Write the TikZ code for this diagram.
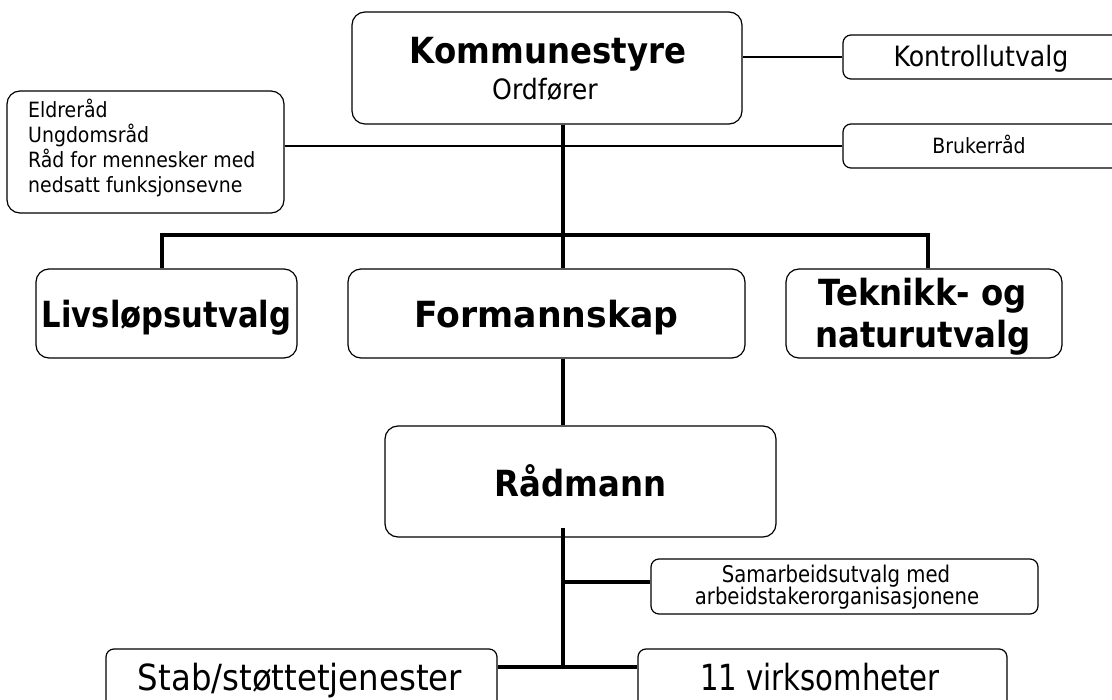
\documentclass[tikz,border=0pt]{standalone}
\usepackage{fontspec}
\setmainfont{DejaVu Sans Condensed}
\newcommand{\hsq}[2]{\scalebox{#1}[1]{#2}}
\begin{document}
\begin{tikzpicture}[x=1pt,y=-1pt]
\tikzset{
  box/.style={draw, fill=white, line width=1.2pt, rounded corners=13pt, inner sep=0pt},
  sbox/.style={box, rounded corners=8pt},
  conn/.style={line width=4.8pt},
  thinconn/.style={line width=1.3pt},
  lbl/.style={inner sep=0pt, anchor=base},
  hd/.style={lbl, font=\fontsize{36}{40}\selectfont\bfseries},
  md/.style={lbl, font=\fontsize{28}{30}\selectfont},
  sm/.style={lbl, font=\fontsize{21}{25}\selectfont},
  sam/.style={lbl, font=\fontsize{23}{25}\selectfont},
  bg/.style={lbl, font=\fontsize{36}{40}\selectfont},
}
\useasboundingbox (0,0) rectangle (1112,700);
\clip (0,0) rectangle (1112,700);

% boxes
\node[box, minimum width=390pt, minimum height=112pt] (kom) at (547,68) {};
\node[sbox, minimum width=282pt, minimum height=44pt] (kon) at (984,57) {};
\node[sbox, minimum width=282pt, minimum height=44pt] (bru) at (984,146) {};
\node[box, minimum width=277pt, minimum height=122pt] (eld) at (145.5,152) {};
\node[box, minimum width=261pt, minimum height=89pt] (liv) at (166.5,313.5) {};
\node[box, minimum width=397pt, minimum height=89pt] (for) at (546.5,313.5) {};
\node[box, minimum width=276pt, minimum height=89pt] (tek) at (924,313.5) {};
\node[box, minimum width=391pt, minimum height=111pt] (rad) at (580.5,481.5) {};
\node[sbox, minimum width=387pt, minimum height=55pt] (sam) at (844.5,586.5) {};
\node[sbox, minimum width=391pt, minimum height=71pt] (stab) at (301.5,684.5) {};
\node[sbox, minimum width=369pt, minimum height=71pt] (vir) at (822.5,684.5) {};

% texts
\node[hd] (komt) at (548,64) {Kommunestyre};
\node[md] (ordt) at (545,100) {Ordfører};
\node[md] (kont) at (981,67) {Kontrollutvalg};
\node[sm] (brut) at (979,154) {Brukerråd};
\node[sm, anchor=base west] (eld1) at (28,118) {Eldreråd};
\node[sm, anchor=base west] (eld2) at (28,143) {Ungdomsråd};
\node[sm, anchor=base west] (eld3) at (28,168) {Råd for mennesker med};
\node[sm, anchor=base west] (eld4) at (28,193) {nedsatt funksjonsevne};
\node[hd] (livt) at (166.5,328) {\hsq{0.945}{Livsløpsutvalg}};
\node[hd] (fort) at (546.5,328) {\hsq{1.07}{Formannskap}};
\node[hd] (tek1) at (923,306) {Teknikk- og};
\node[hd] (tek2) at (923,348) {naturutvalg};
\node[hd] (radt) at (580.5,497) {Rådmann};
\node[sam] (sam1) at (836,582) {\hsq{0.95}{Samarbeidsutvalg med}};
\node[sam] (sam2) at (837,605) {\hsq{0.95}{arbeidstakerorganisasjonene}};
\node[bg] (stabt) at (300,690) {Stab/støttetjenester};
\node[bg] (virt) at (820,690) {\hsq{0.9}{11 virksomheter}};

% connector coordinates
\coordinate (sp) at (563,0);
\coordinate (barL) at (162,235);
\coordinate (barR) at (928,235);
\coordinate (samJ) at (563,582);
\coordinate (botJ) at (563,667);

% connectors
\draw[thinconn] (kom.east |- kon.west) -- (kon.west);
\draw[thinconn] (eld.east |- bru.west) -- (bru.west);
\draw[conn] (kom.south -| sp) -- (for.north -| sp);
\draw[conn] (liv.north -| barL) -- (barL) -- (barR) -- (tek.north -| barR);
\draw[conn] (for.south -| sp) -- (rad.north -| sp);
\draw[conn] ([yshift=10pt]rad.south -| sp) -- (botJ);
\draw[conn] (samJ) -- (sam.west |- samJ);
\draw[conn] (stab.east |- botJ) -- (vir.west |- botJ);
\end{tikzpicture}
\end{document}
